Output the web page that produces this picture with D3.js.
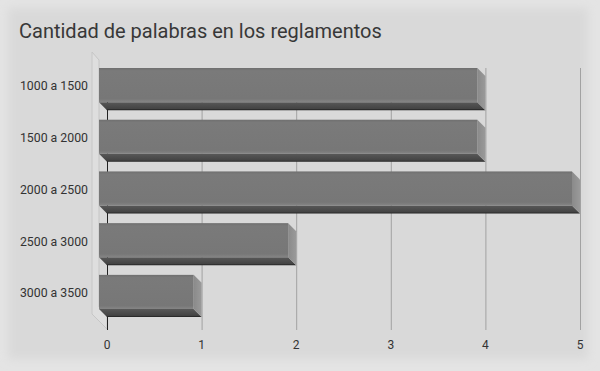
<!DOCTYPE html>
<html>
<head>
<meta charset="utf-8">
<script src="https://cdn.jsdelivr.net/npm/d3@7"></script>
<style>
  body { margin: 0; background: #e4e4e4; }
  svg { display: block; font-family: Roboto, sans-serif; }
</style>
</head>
<body>
<div id="chart"></div>
<script>
// data
var categories = ["1000 a 1500", "1500 a 2000", "2000 a 2500", "2500 a 3000", "3000 a 3500"];
var values = [4, 4, 5, 2, 1];
var xTicks = [0, 1, 2, 3, 4, 5];
var title = "Cantidad de palabras en los reglamentos";

var width = 600, height = 371;
var depth = 8;

var svg = d3.select("#chart").append("svg")
    .attr("width", width)
    .attr("height", height);

var defs = svg.append("defs");
defs.append("filter").attr("id", "soft")
    .append("feGaussianBlur").attr("stdDeviation", 5);

var gFront = defs.append("linearGradient").attr("id", "front")
    .attr("x1", 0).attr("y1", 0).attr("x2", 0).attr("y2", 1);
gFront.append("stop").attr("offset", "0%").attr("stop-color", "#6f6f6f");
gFront.append("stop").attr("offset", "8%").attr("stop-color", "#7a7a7a");
gFront.append("stop").attr("offset", "90%").attr("stop-color", "#777777");
gFront.append("stop").attr("offset", "100%").attr("stop-color", "#858585");

var gBottom = defs.append("linearGradient").attr("id", "bottom")
    .attr("x1", 0).attr("y1", 0).attr("x2", 0).attr("y2", 1);
gBottom.append("stop").attr("offset", "0%").attr("stop-color", "#585858");
gBottom.append("stop").attr("offset", "80%").attr("stop-color", "#444444");
gBottom.append("stop").attr("offset", "100%").attr("stop-color", "#1e1e1e");

var gSide = defs.append("linearGradient").attr("id", "side")
    .attr("x1", 0).attr("y1", 0).attr("x2", 1).attr("y2", 0);
gSide.append("stop").attr("offset", "0%").attr("stop-color", "#8a8a8a");
gSide.append("stop").attr("offset", "100%").attr("stop-color", "#9a9a9a");

// panel background with soft edges
svg.append("rect")
    .attr("x", 8).attr("y", 8)
    .attr("width", width - 20).attr("height", height - 20)
    .attr("fill", "#d9d9d9")
    .attr("filter", "url(#soft)");

// scales
var x = d3.scaleLinear().domain([0, 5]).range([107, 580]);
var y = d3.scaleBand().domain(categories).range([76, 317]).paddingInner(0.34).paddingOuter(0);
var plotTop = 68, plotBottom = 330;

// title
svg.append("text")
    .attr("x", 19).attr("y", 38)
    .attr("fill", "#383838")
    .style("font-size", "20px")
    .text(title);

// left wall
var wx = x(0);
svg.append("path")
    .attr("d", "M" + (wx - 15) + "," + (plotTop - 16) +
               "L" + (wx - depth) + "," + (plotTop - depth) +
               "L" + (wx - depth) + "," + (y(categories[4]) + y.bandwidth() - 10) +
               "L" + wx + "," + (y(categories[4]) + y.bandwidth() - 2) +
               "L" + wx + "," + (plotBottom - 1) +
               "L" + (wx - 15) + "," + (plotBottom - 16) + "Z")
    .attr("fill", "#dedede")
    .attr("stroke", "#c6c6c6")
    .attr("stroke-width", 1);

// gridlines
svg.append("g").selectAll("line")
    .data(xTicks.slice(1))
    .enter().append("line")
    .attr("x1", function(d) { return x(d) + 0.5; })
    .attr("x2", function(d) { return x(d) + 0.5; })
    .attr("y1", plotTop).attr("y2", plotBottom)
    .attr("stroke", "#a2a2a2");

// zero axis
svg.append("line")
    .attr("x1", x(0) + 0.5).attr("x2", x(0) + 0.5)
    .attr("y1", plotTop).attr("y2", plotBottom)
    .attr("stroke", "#222");

// bars
var bars = svg.append("g").selectAll("g")
    .data(categories)
    .enter().append("g");

bars.append("path") // bottom face
    .attr("fill", "url(#bottom)")
    .attr("d", function(d, i) {
        var x0 = x(0), x1 = x(values[i]);
        var yb = y(d) + y.bandwidth();
        return "M" + (x0 - depth) + "," + (yb - depth) + "L" + (x1 - depth) + "," + (yb - depth) +
               "L" + x1 + "," + yb + "L" + x0 + "," + yb + "Z";
    });

bars.append("path") // side face
    .attr("fill", "url(#side)")
    .attr("d", function(d, i) {
        var x1 = x(values[i]);
        var yt = y(d), yb = y(d) + y.bandwidth();
        return "M" + (x1 - depth) + "," + (yt - depth) + "L" + x1 + "," + yt +
               "L" + x1 + "," + yb + "L" + (x1 - depth) + "," + (yb - depth) + "Z";
    });

bars.append("rect") // front face
    .attr("x", x(0) - depth)
    .attr("y", function(d) { return y(d) - depth; })
    .attr("width", function(d, i) { return x(values[i]) - x(0); })
    .attr("height", y.bandwidth())
    .attr("fill", "url(#front)");

// category labels
svg.append("g").selectAll("text")
    .data(categories)
    .enter().append("text")
    .attr("x", 88)
    .attr("y", function(d) { return y(d) - depth + y.bandwidth() / 2 + 1; })
    .attr("dy", "0.35em")
    .attr("text-anchor", "end")
    .attr("fill", "#333")
    .style("font-size", "12.3px")
    .text(function(d) { return d; });

// x tick labels
svg.append("g").selectAll("text")
    .data(xTicks)
    .enter().append("text")
    .attr("x", function(d) { return x(d); })
    .attr("y", 349)
    .attr("text-anchor", "middle")
    .attr("fill", "#333")
    .style("font-size", "12px")
    .text(function(d) { return d; });
</script>
</body>
</html>
